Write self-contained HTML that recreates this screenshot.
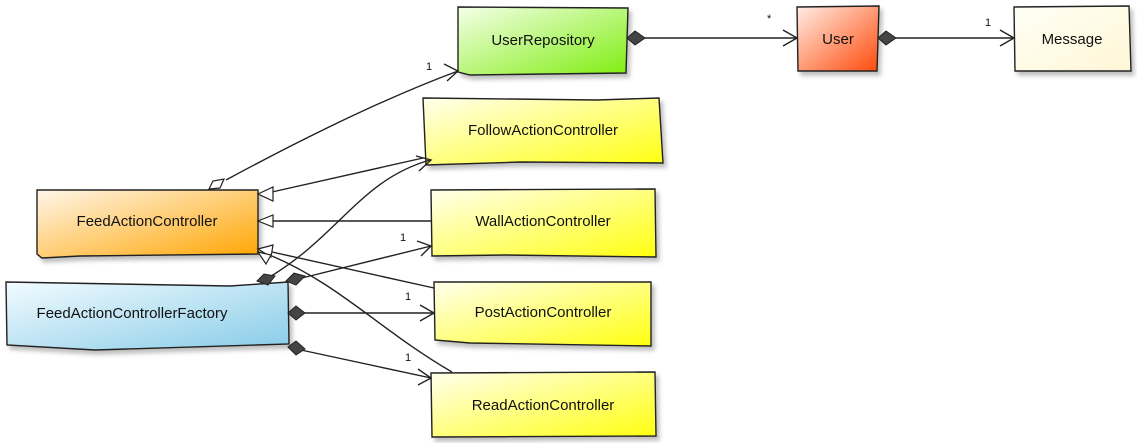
<!DOCTYPE html>
<html><head><meta charset="utf-8"><style>
html,body{margin:0;padding:0;background:#fff;}
svg{display:block;}
text{font-family:"Liberation Sans","DejaVu Sans",sans-serif;font-size:15px;fill:#111;}
</style></head><body>
<svg width="1137" height="443" viewBox="0 0 1137 443" xmlns="http://www.w3.org/2000/svg">
<defs>
<linearGradient id="gG" x1="0" y1="0" x2="1" y2="1"><stop offset="0" stop-color="#f4ffe8"/><stop offset="1" stop-color="#7fee10"/></linearGradient>
<linearGradient id="gR" x1="0" y1="0" x2="1" y2="1"><stop offset="0" stop-color="#ffeee6"/><stop offset="1" stop-color="#ff4a0a"/></linearGradient>
<linearGradient id="gC" x1="0" y1="0" x2="1" y2="1"><stop offset="0" stop-color="#fffff6"/><stop offset="1" stop-color="#fff6d6"/></linearGradient>
<linearGradient id="gY" x1="0" y1="0" x2="1" y2="1"><stop offset="0" stop-color="#ffffee"/><stop offset="1" stop-color="#ffff10"/></linearGradient>
<linearGradient id="gO" x1="0" y1="0" x2="1" y2="1"><stop offset="0" stop-color="#fff6ea"/><stop offset="1" stop-color="#ffa500"/></linearGradient>
<linearGradient id="gB" x1="0" y1="0" x2="1" y2="1"><stop offset="0" stop-color="#f2fbff"/><stop offset="1" stop-color="#88cce8"/></linearGradient>
<filter id="sh" x="-10%" y="-10%" width="130%" height="140%"><feDropShadow dx="3" dy="4" stdDeviation="2" flood-color="#000" flood-opacity="0.25"/></filter>
</defs>
<g stroke="#222" stroke-width="1.4" filter="url(#sh)">
<polygon points="458,7 628,8 626,73 470,75 458,72" fill="url(#gG)"/>
<polygon points="797,7 879,6 877,71 798,71" fill="url(#gR)"/>
<polygon points="1014,7 1129,6 1131,71 1015,71" fill="url(#gC)"/>
<polygon points="423,98 597,100 659,98 663,163 521,162 426,165" fill="url(#gY)"/>
<polygon points="431,190 655,189 656,257 505,255 432,256" fill="url(#gY)"/>
<polygon points="434,282 651,282 651,346 470,343 435,340" fill="url(#gY)"/>
<polygon points="431,373 655,372 656,436 432,437" fill="url(#gY)"/>
<polygon points="37,190 258,190 258,254 80,256 42,258 37,254" fill="url(#gO)"/>
<polygon points="6,282 230,286 288,282 289,344 95,350 7,345" fill="url(#gB)"/>
</g>
<g fill="none" stroke="#222" stroke-width="1.4">
<path d="M226,180 C300,140 380,100 458,71"/>
<path d="M444,64 L458,71 L447,81"/>
<path d="M423,158 L272,192"/>
<path d="M431,221 L272,221"/>
<path d="M434,288 L272,252"/>
<path d="M452,372 C380,330 340,285 272,256"/>
<path d="M268,278 C340,235 360,180 430,160"/>
<path d="M416,156 L431,160 L419,171"/>
<path d="M302,278 L431,246"/>
<path d="M417,241 L431,246 L421,256"/>
<path d="M302,313 L434,313"/>
<path d="M420,305 L434,313 L420,321"/>
<path d="M301,350 L431,378"/>
<path d="M418,369 L431,378 L418,385"/>
<path d="M644,38 L797,38"/>
<path d="M783,30 L797,38 L783,46"/>
<path d="M895,38 L1014,38"/>
<path d="M1000,30 L1014,38 L1000,46"/>
</g>
<g fill="#fff" stroke="#222" stroke-width="1.2">
<polygon points="209,189 213,181 224,179 220,188"/>
<polygon points="258,221 273,215 273,227"/>
<polygon points="258,249 273,245 271,257"/>
<polygon points="258,252 271,255 266,264"/>
<polygon points="258,194 273,187 273,201"/>
</g>
<g fill="#444" stroke="#222" stroke-width="1">
<polygon points="257,281 264,274 275,276 268,285"/>
<polygon points="286,281 294,273 305,276 296,285"/>
<polygon points="288,313 296,306 305,313 296,320"/>
<polygon points="288,347 296,341 305,349 296,355"/>
<polygon points="627,38 635,31 645,38 635,45"/>
<polygon points="878,38 886,31 896,38 886,45"/>
</g>
<g text-anchor="middle">
<text x="543" y="45">UserRepository</text>
<text x="838" y="44">User</text>
<text x="1072" y="44">Message</text>
<text x="543" y="135">FollowActionController</text>
<text x="543" y="226">WallActionController</text>
<text x="543" y="317">PostActionController</text>
<text x="543" y="410">ReadActionController</text>
<text x="147" y="226">FeedActionController</text>
<text x="132" y="318">FeedActionControllerFactory</text>
</g>
<g>
<text x="426" y="70" style="font-size:11px">1</text>
<text x="767" y="22" style="font-size:11px">*</text>
<text x="985" y="26" style="font-size:11px">1</text>
<text x="400" y="241" style="font-size:11px">1</text>
<text x="405" y="300" style="font-size:11px">1</text>
<text x="405" y="361" style="font-size:11px">1</text>
</g>
</svg>
</body></html>
